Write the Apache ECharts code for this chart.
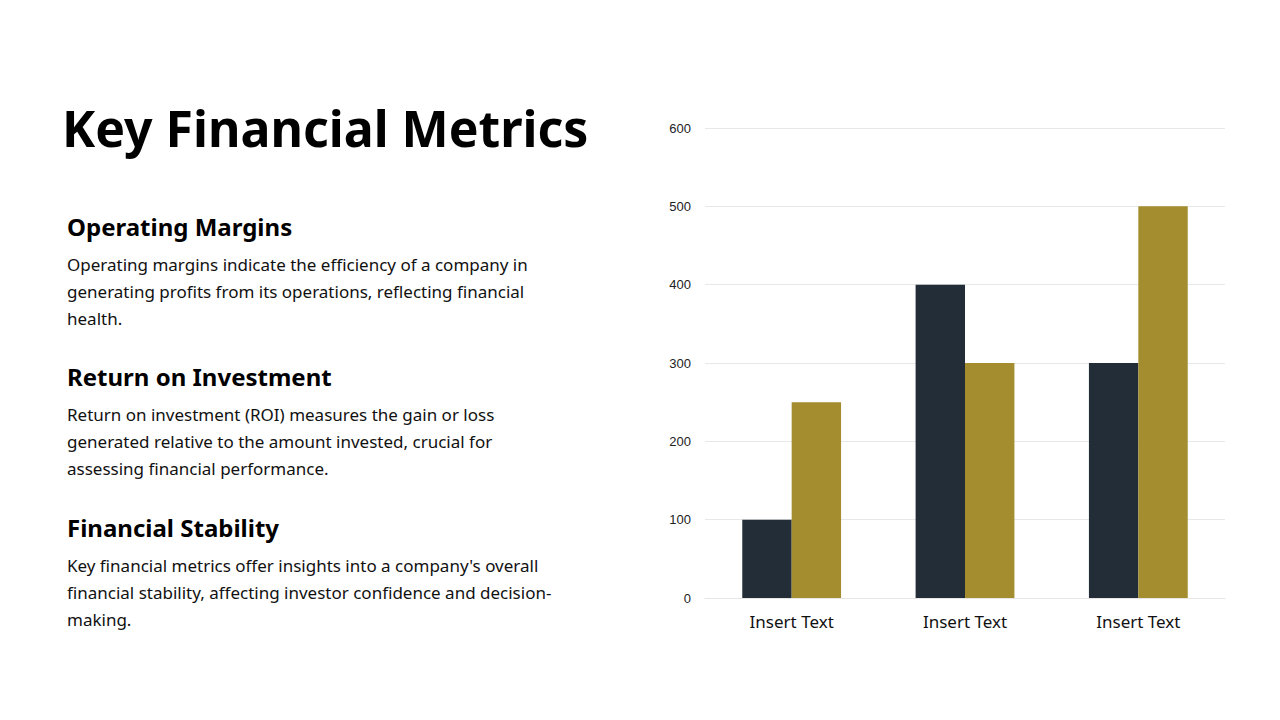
<!DOCTYPE html>
<html>
<head>
<meta charset="utf-8">
<script src="https://cdn.jsdelivr.net/npm/echarts@6/dist/echarts.min.js"></script>
<style>
html,body{margin:0;padding:0;background:#fff;}
#c{width:1280px;height:720px;}
</style>
</head>
<body>
<div id="c"></div>
<script>
const categories = ['Insert Text', 'Insert Text', 'Insert Text'];
const series1 = [100, 400, 300];
const series2 = [250, 300, 500];
const yTicks = [0, 100, 200, 300, 400, 500, 600];

const titleText = 'Key Financial Metrics';
const sections = [
  { heading: 'Operating Margins', lines: ['Operating margins indicate the efficiency of a company in', 'generating profits from its operations, reflecting financial', 'health.'] },
  { heading: 'Return on Investment', lines: ['Return on investment (ROI) measures the gain or loss', 'generated relative to the amount invested, crucial for', 'assessing financial performance.'] },
  { heading: 'Financial Stability', lines: ['Key financial metrics offer insights into a company\'s overall', 'financial stability, affecting investor confidence and decision-', 'making.'] }
];

const FONT = '"Noto Sans", sans-serif';
const graphics = [];
graphics.push({
  type: 'text', left: 62, top: 103,
  style: { text: titleText, font: 'bold 50px ' + FONT, fill: '#000' }
});
sections.forEach((s, i) => {
  const base = 226 + i * 150.5;
  graphics.push({
    type: 'text', x: 67, y: base,
    style: { text: s.heading, font: 'bold 24px ' + FONT, fill: '#000', verticalAlign: 'middle' }
  });
  s.lines.forEach((ln, j) => {
    graphics.push({
      type: 'text', x: 67, y: base + 38 + j * 27,
      style: { text: ln, font: '17px ' + FONT, fill: '#111', verticalAlign: 'middle' }
    });
  });
});

const chart = echarts.init(document.getElementById('c'), null, { renderer: 'svg' });
chart.setOption({
  animation: false,
  backgroundColor: '#fff',
  graphic: graphics,
  grid: { left: 705, right: 55, top: 128, bottom: 122, containLabel: false },
  xAxis: {
    type: 'category',
    data: categories,
    axisLine: { show: true, lineStyle: { color: '#e6e6e6', width: 1 } },
    axisTick: { show: false },
    axisLabel: { color: '#111', fontSize: 17, margin: 15, fontFamily: FONT }
  },
  yAxis: {
    type: 'value',
    min: yTicks[0],
    max: yTicks[yTicks.length - 1],
    interval: 100,
    axisLine: { show: false },
    axisTick: { show: false },
    splitLine: { lineStyle: { color: '#e8e8e8', width: 1 } },
    axisLabel: { color: '#222', fontSize: 13, margin: 14, fontFamily: '"Liberation Sans", Arial, sans-serif' }
  },
  series: [
    { type: 'bar', data: series1, itemStyle: { color: '#232D38' }, barGap: '0%', barCategoryGap: '43%' },
    { type: 'bar', data: series2, itemStyle: { color: '#A38D2E' }, barGap: '0%', barCategoryGap: '43%' }
  ]
});
</script>
</body>
</html>
